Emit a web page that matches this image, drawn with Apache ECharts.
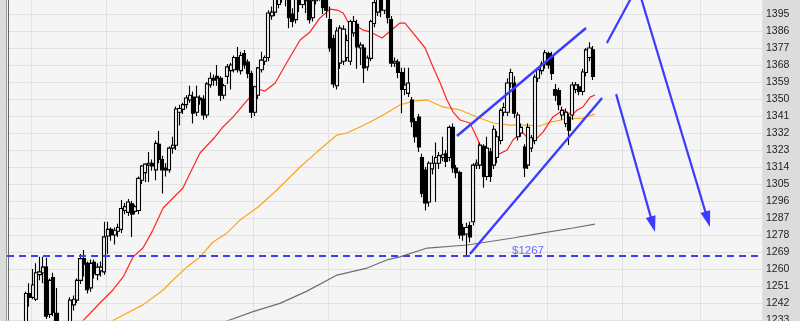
<!DOCTYPE html>
<html>
<head>
<meta charset="utf-8">
<script src="https://cdn.jsdelivr.net/npm/echarts@6/dist/echarts.min.js"></script>
<style>html,body{margin:0;padding:0;background:#dcdcdc;}#c{width:800px;height:321px;}</style>
</head>
<body>
<div id="c"></div>
<script>
// ---- data ----
const slotCount = 221;
const categories = Array.from({length: slotCount}, (_, i) => String(i));
const monthStarts = [7, 29, 51, 72, 94, 115, 137, 158, 180, 203];

const opens = [1222,1218,1224,1220,1226,1229,1247,1245,1244,1257,1258,1261,1236,1255.5,1236.5,1228,1222,1226,1224,1241,
1243.5,1254,1265.5,1263,1250,1263.5,1257,1259,1258.5,1277.5,1281,1278,1280,1281,1291,1290,1294.5,1290.5,1291,1307,
1311,1315,1316,1312.5,1326,1318,1313.5,1312.5,1324,1325.5,1343,1344.5,1347,1349.5,1351,1343,1350.5,1350,1341.5,1357.5,
1361,1362,1361,1352,1362,1365,1365.5,1372,1365,1374,1369.5,1363.5,1343,1352,1365.5,1370,1372,1394,1396,1400,
1404,1407,1408,1395,1392,1404,1400,1405,1406,1393,1402,1405,1408,1403,1392,1382,1357,1369,1370,1372,
1370,1385,1389.5,1377,1377,1367,1371.5,1390,1396,1406,1397,1405,1392,1369,1369.5,1364,1355,1353,1349.5,1338,
1340.5,1319,1312.4,1295.5,1313,1316,1316,1319,1321,1319,1335,1313.5,1311,1282,1278.5,1283,1285,1315,1315,1325,
1309,1322,1315,1319,1328,1343,1343,1358.5,1358.5,1330,1332,1324.6,1315,1324,1328,1361,1365,1368.5,1374,1373,
1355,1354.5,1341.5,1337,1340.5,1341.5,1355,1356.5,1354,1364,1372,1376];
const closes = [1218,1224,1220,1226,1229,1247,1245,1251.5,1258,1258.5,1261,1235,1254,1237,1228,1222,1226,1224,1243.5,1244,
1254,1265.5,1262.5,1249,1263,1257.5,1261,1261,1277,1281,1278,1280.5,1282,1292,1293,1295.5,1289,1293,1308,1314.5,
1315.5,1316,1314.5,1326.5,1318,1312.5,1312.5,1324,1325.5,1344.7,1345,1347,1350.5,1352,1342.5,1351,1349.5,1341.5,1358,1361,
1360,1361,1352,1357,1367,1368,1372,1365.5,1373,1368,1363.5,1343,1356.5,1366.5,1370.6,1372,1395.5,1396,1403,1405,
1408,1406,1393,1391,1404,1400,1405,1402,1392,1402,1405,1408,1398.5,1397,1377,1358,1386,1387.5,1387,1381,
1391,1391,1377.5,1378.5,1366.5,1371.7,1391,1401,1405,1397,1404,1393,1369,1370,1364,1355,1357.5,1358.5,1338,1330,
1324.6,1300,1295,1316,1316,1319,1320,1320.5,1317,1335,1313.5,1311,1278,1278,1282,1277,1315,1316,1325.6,1309,
1324,1309,1334,1330,1344,1345.5,1358.5,1364,1342.5,1341.5,1335,1313.5,1335,1329.5,1361.6,1365.5,1368.5,1374.5,1368,1363.5,
1352,1347,1344,1343,1333.5,1357.4,1357.5,1354,1364.3,1376,1377,1362];
const lows = [1214,1215,1216,1217,1221,1227,1240,1244,1243,1254,1252.5,1233.5,1234,1235,1225,1218,1216,1219,1222,1238,
1242,1252,1256,1247,1248,1255,1254,1256,1257,1268,1275,1273,1277,1279,1289,1288,1277,1289,1289,1305,
1306,1306,1312,1307,1316,1300,1309,1311,1321,1323,1336,1342,1345,1348,1337,1341,1347,1339,1340,1356,
1357,1357,1349,1350,1358,1355,1364,1364,1363,1366,1361,1340,1341,1350,1364,1368,1370,1392,1394,1398,
1401,1399,1387.5,1388,1390,1396,1398,1395.5,1390,1391,1400,1402,1395,1393,1375,1356,1355,1366,1368,1370,
1368,1383,1366,1368,1358.5,1365,1370,1388,1394,1393.4,1395,1390,1367,1367,1361,1342.5,1352,1351,1335,1327,
1322,1298,1291,1293,1310,1295.5,1313,1317,1314,1317,1311,1308,1276,1275,1267.4,1274,1283,1313,1313,1303,
1307,1306,1313,1316,1326,1341,1341,1356,1340,1328,1330,1308.7,1313,1322,1326,1359,1363,1366,1366,1360,
1349,1344,1339,1335,1325.6,1339,1353,1352,1352,1362,1370,1360];
const highs = [1226,1228,1227,1230,1231,1248,1252.5,1260,1263,1266.5,1266.5,1266,1255,1258,1250,1230,1229,1231,1245,1246,
1255,1268,1270,1264,1265,1265,1263,1264,1285,1285,1282,1282,1284,1296.5,1295,1297,1296,1294,1309,1315,
1316,1322,1318,1328,1333,1320,1316,1325,1330,1346,1347,1348,1352,1357,1354,1357,1352,1352,1359,1364,
1363,1368,1362,1358,1368.5,1369,1373,1377.5,1375,1376,1371,1365,1357,1367,1375,1373,1397,1399,1405,1408,
1410,1410,1410,1398,1406,1407,1408,1409,1409,1406,1410,1412,1412,1407,1399,1384,1388,1389,1389,1384,
1392,1394,1392,1380,1379,1373,1392,1403,1407,1408,1408,1407,1394,1372,1371,1366.5,1366.5,1366.5,1351,1340,
1342,1321,1314,1317,1320,1327,1322,1330,1323,1336,1337,1315,1312,1284,1284.5,1285,1316,1318,1327,1326,
1330,1324,1336,1333,1345,1348,1361,1366,1362,1343,1337,1326,1337,1331,1363,1367,1370,1376,1375,1375,
1358,1356,1346,1345,1342,1359,1359,1358,1366,1377,1380,1378];

// moving averages: [slot, price]
const maShort = [[19.4,1227],[21.7,1232.5],[26.7,1242],[30.5,1248.9],[33.5,1255.8],[36.4,1266.4],[39.3,1271.1],[42.2,1280.6],
[45.2,1292.3],[48.1,1297.6],[51.0,1302.9],[53.1,1310.8],[56.0,1321.4],[60.4,1329.9],[62.7,1335.2],[65.7,1340.5],[70.6,1351.0],
[73.0,1355.3],[75.0,1354.2],[78.0,1358.5],[81.5,1369.6],[85.3,1381.2],[88.2,1385.5],[91.1,1392.9],[94.1,1397.6],[96.1,1397.1],
[97.9,1395.5],[99.3,1390.8],[101.4,1389.2],[103.7,1386.5],[105.8,1385.5],[109.3,1382.3],[111.0,1384.9],[114.5,1390.2],
[116.0,1390.2],[118.4,1384.9],[121.9,1377.0],[124.2,1366.9],[126.3,1358.5],[128.3,1349.5],[130.1,1343.1],[132.1,1338.9],
[135.0,1337.3],[137.4,1328.3],[138.5,1320.3],[140.9,1319.3],[142.9,1320.3],[145.9,1323.0],[147.6,1328.3],[150.3,1332.5],
[151.7,1329.9],[153.5,1327.2],[156.4,1332.5],[159.3,1340.5],[162.3,1344.2],[164.9,1341.5],[166.4,1344.2],[168.1,1345.8],
[170.2,1351.0],[171.6,1352.1]];
const maMid = [[28,1230],[30.2,1232.5],[39.3,1241],[45.2,1248.9],[48.1,1254.2],[52.2,1261.1],[56.0,1266.4],[59.8,1274.3],
[63.9,1279.1],[67.7,1285.9],[73.0,1292.8],[78.5,1301.8],[85.3,1314.0],[90.2,1321.9],[96.1,1330.9],[99.0,1332.0],[102.8,1335.2],
[105.8,1337.8],[109.6,1341.5],[114.5,1346.8],[118.4,1348.9],[122.5,1349.5],[127.1,1345.8],[132.1,1344.2],[137.1,1340.5],
[141.8,1337.3],[146.7,1336.2],[151.7,1336.2],[155.5,1335.7],[158.5,1337.8],[163.4,1339.4],[168.1,1339.9],[171.6,1342.0]];
const maLong = [[60,1230],[63.9,1232.5],[71.5,1237.4],[79.4,1241.8],[87.3,1248.3],[96.1,1256.8],[104.9,1260.5],[110.7,1264.8],
[114.5,1266.4],[122.5,1271.1],[134.2,1272.7],[147.6,1276.4],[156.4,1279.1],[165.2,1281.7],[171.6,1283.8]];

// hand-drawn annotations: [slot, price]
const supportLevel = 1267;
const supportText = '$1267';
const supportLabelPos = [152.0, 1269.8];
const channelUpper = [[131.2,1330.4],[169.0,1387.6]];
const channelLower = [[135.0,1267.9],[173.7,1350.5]];
const breakoutLine = [[175.1,1379.6],[182.5,1404.5]];
const arrowA = [[177.8,1352.6],[188.55,1283.6]];
const arrowB = [[185.1,1403.5],[204.6,1286.3]];

const yTicks = {min: 1233, max: 1404, interval: 9};

// ---- chart ----
const candleData = opens.map((o, i) => [o, closes[i], lows[i], highs[i]]);
const blue = '#3c3cff';
const chart = echarts.init(document.getElementById('c'), null, {renderer: 'canvas'});
function seg(pts, w) {
  return {type:'line', xAxisIndex:1, yAxisIndex:0, data: pts, symbol:'none', silent:true,
    lineStyle:{color:blue, width:w}, z:5};
}
chart.setOption({
  backgroundColor: '#dcdcdc',
  animation: false,
  grid: {left: 7, right: 38, top: -3, bottom: 1, show: true, backgroundColor: '#f5f5f5', borderWidth: 0,
    containLabel: false, outerBoundsMode: 'none'},
  xAxis: [
    {type:'category', data: categories, boundaryGap: true,
     axisLine:{show:false}, axisTick:{show:false}, axisLabel:{show:false},
     splitLine:{show:true, interval: (i) => monthStarts.includes(i), lineStyle:{color:'#e2e2e2', width:1}}},
    {type:'value', min:-0.5, max: slotCount - 0.5, show:false}
  ],
  yAxis: {type:'value', position:'right', min: yTicks.min, max: yTicks.max, interval: yTicks.interval,
    axisLine:{show:true, lineStyle:{color:'#5f6b6b', width:1}}, axisTick:{show:false},
    axisLabel:{color:'#1e1e1e', fontSize:10.5, margin:4, fontFamily:'Liberation Sans, Arial, sans-serif',
      formatter: (v) => String(v), hideOverlap:false},
    splitLine:{show:true, lineStyle:{color:'#e2e2e2', width:1}}},
  graphic: [
    {type:'line', shape:{x1:6.5, y1:0, x2:6.5, y2:321}, style:{stroke:'#9a9a9a', lineWidth:1}, z:100}
  ],
  series: [
    {type:'line', name:'MA long', xAxisIndex:1, data: maLong, symbol:'none', lineStyle:{color:'#6f6f6f', width:1.2}, z:2},
    {type:'line', name:'MA mid', xAxisIndex:1, data: maMid, symbol:'none', lineStyle:{color:'#ffa31a', width:1.2}, z:2},
    {type:'line', name:'MA short', xAxisIndex:1, data: maShort, symbol:'none', lineStyle:{color:'#ff2424', width:1.2}, z:2},
    {type:'candlestick', name:'Price', data: candleData, barWidth: 3.6, z:3,
     itemStyle:{color:'#f5f5f5', color0:'#000', borderColor:'#000', borderColor0:'#000', borderWidth:1.1},
     markLine:{silent:true, symbol:'none', label:{show:false},
       lineStyle:{color:blue, type:[7,5], width:1.8},
       data:[{yAxis: supportLevel}]}},
    seg(channelUpper, 2.4),
    seg(channelLower, 2.4),
    seg(breakoutLine, 2.2),
    {type:'line', xAxisIndex:1, data:[], symbol:'none', silent:true, z:6,
     markLine:{silent:true, symbol:['none','triangle'], symbolSize:[10,16], label:{show:false},
       lineStyle:{color:blue, width:2.2, type:'solid'},
       data:[
         [{coord: arrowA[0]}, {coord: arrowA[1]}],
         [{coord: arrowB[0]}, {coord: arrowB[1]}]
       ]}},
    {type:'scatter', xAxisIndex:1, data:[supportLabelPos], symbolSize:0, silent:true, z:7,
     label:{show:true, position:'inside', formatter: supportText, color:'#4848ff', fontSize:11.5,
       fontFamily:'Liberation Sans, Arial, sans-serif'}}
  ]
});
</script>
</body>
</html>
